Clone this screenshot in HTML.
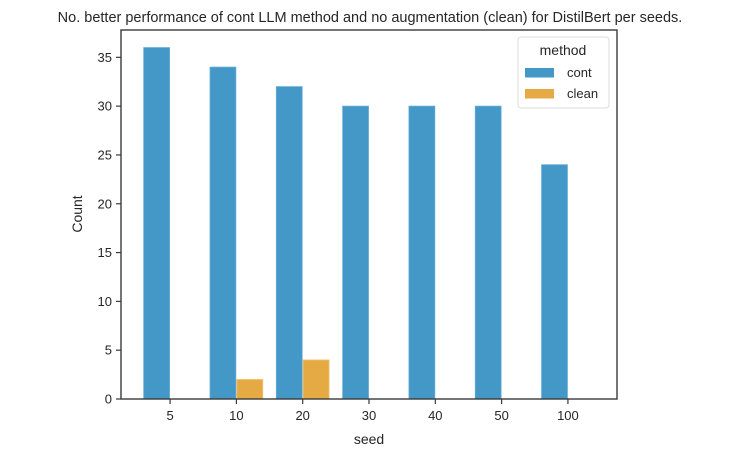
<!DOCTYPE html>
<html><head><meta charset="utf-8"><style>
body{margin:0;background:#fff;}
svg text{font-family:"Liberation Sans",Arial,sans-serif;fill:#262626;}
</style></head><body>
<svg width="737" height="457" xmlns="http://www.w3.org/2000/svg">
<text x="370" y="22" font-size="14.5" text-anchor="middle">No. better performance of cont LLM method and no augmentation (clean) for DistilBert per seeds.</text>
<g id="bars"></g>
<g id="axes"></g>
<text x="369" y="444" font-size="14" text-anchor="middle">seed</text>
<text transform="translate(82,214) rotate(-90)" font-size="14" text-anchor="middle">Count</text>
<g>
<rect x="518" y="37" width="91" height="71" rx="3" fill="#fff" stroke="#ddd"/>
<text x="563" y="55" font-size="14" text-anchor="middle">method</text>
<rect x="525" y="68" width="29" height="9.5" fill="#4398c7"/>
<text x="567" y="77" font-size="13">cont</text>
<rect x="525" y="89" width="29" height="9.5" fill="#e6aa45"/>
<text x="567" y="98" font-size="13">clean</text>
</g>
</svg>
<script>
const categories=["5","10","20","30","40","50","100"];
const contValues=[36,34,32,30,30,30,24];
const cleanValues=[0,2,4,0,0,0,0];
const yTicks=[0,5,10,15,20,25,30,35];
const L=121,R=617,T=30,B=399,yMax=37.8,xMin=-0.74,xMax=6.74;
const ns="http://www.w3.org/2000/svg";
const xs=i=>L+(i-xMin)/(xMax-xMin)*(R-L);
const ys=v=>B-v/yMax*(B-T);
const bw=0.39*(R-L)/(xMax-xMin);
const bars=document.getElementById('bars'),axes=document.getElementById('axes');
function mk(t,a,p){const e=document.createElementNS(ns,t);for(const k in a)e.setAttribute(k,a[k]);p.appendChild(e);return e;}
categories.forEach((c,i)=>{
 const cx=xs(i);
 if(contValues[i]>0){const r=mk('rect',{x:cx-bw-0.5,y:ys(contValues[i]),width:bw,height:B-ys(contValues[i]),fill:'#4398c7',stroke:'#62abd4','stroke-width':0.8},bars);
 
 }
 if(cleanValues[i]>0){const r=mk('rect',{x:cx+0.5,y:ys(cleanValues[i]),width:bw,height:B-ys(cleanValues[i]),fill:'#e6aa45',stroke:'#efc070','stroke-width':0.8},bars);
 
 }
 mk('line',{x1:cx,x2:cx,y1:B,y2:B+5,stroke:'#3a3a3a','stroke-width':1.2},axes);
 const t=mk('text',{x:cx,y:B+21,'font-size':13,'text-anchor':'middle'},axes);t.textContent=c;
 
 
});
yTicks.forEach(v=>{
 const y=ys(v);
 mk('line',{x1:L-5,x2:L,y1:y,y2:y,stroke:'#3a3a3a','stroke-width':1.2},axes);
 const t=mk('text',{x:L-9,y:y+4.5,'font-size':13,'text-anchor':'end'},axes);t.textContent=v;
 
 
});
const f=mk('rect',{x:L,y:T,width:R-L,height:B-T,fill:'none',stroke:'#3a3a3a','stroke-width':1.4},axes);


</script>
</body></html>
